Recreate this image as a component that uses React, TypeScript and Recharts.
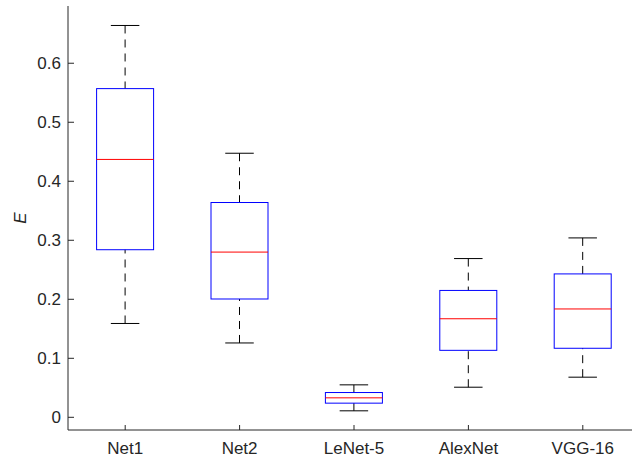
import React from 'react';
import { ComposedChart, Bar, XAxis, YAxis } from 'recharts';

// box statistics
const names = ['Net1', 'Net2', 'LeNet-5', 'AlexNet', 'VGG-16'];
const lowerWhisker = [0.159, 0.126, 0.011, 0.051, 0.068];
const q1 = [0.284, 0.2005, 0.024, 0.1135, 0.117];
const median = [0.437, 0.28, 0.033, 0.167, 0.1836];
const q3 = [0.557, 0.364, 0.042, 0.215, 0.243];
const upperWhisker = [0.664, 0.4475, 0.055, 0.269, 0.304];
const yTicks = [0, 0.1, 0.2, 0.3, 0.4, 0.5, 0.6];

const data = names.map((name, i) => ({
  name,
  min: lowerWhisker[i],
  q1: q1[i],
  median: median[i],
  q3: q3[i],
  max: upperWhisker[i],
}));

const AXIS = '#262626';

const BoxShape = (props: any) => {
  const { x, y, width, height, payload } = props;
  const top = Math.min(y, y + height);
  const bottom = Math.max(y, y + height);
  const k = (bottom - top) / (payload.max - payload.min);
  const py = (v: number) => top + (payload.max - v) * k;
  const cx = x + width / 2;
  const cap = width / 4;
  return (
    <g>
      {/* whiskers, dashed from the cap towards the box */}
      <line x1={cx} x2={cx} y1={py(payload.max)} y2={py(payload.q3)} stroke="#000" strokeDasharray="8 6" />
      <line x1={cx} x2={cx} y1={py(payload.min)} y2={py(payload.q1)} stroke="#000" strokeDasharray="8 6" />
      <line x1={cx - cap} x2={cx + cap} y1={py(payload.max)} y2={py(payload.max)} stroke="#000" />
      <line x1={cx - cap} x2={cx + cap} y1={py(payload.min)} y2={py(payload.min)} stroke="#000" />
      {/* box */}
      <rect x={x} y={py(payload.q3)} width={width} height={py(payload.q1) - py(payload.q3)} fill="none" stroke="#0000ff" />
      <line x1={x} x2={x + width} y1={py(payload.median)} y2={py(payload.median)} stroke="#ff0000" />
    </g>
  );
};

const YLabel = (props: any) => {
  const vb = props.viewBox;
  const lx = vb.x + 12;
  const ly = vb.y + vb.height / 2;
  return (
    <text x={lx} y={ly} transform={`rotate(-90, ${lx}, ${ly})`} textAnchor="middle" dominantBaseline="central"
      fill={AXIS} fontSize={17} fontStyle="italic">E</text>
  );
};

export default function App() {
  return (
    <div style={{ position: 'fixed', left: 0, top: 0, width: 632, height: 463, overflow: 'hidden', background: '#fff' }}>
      <ComposedChart
        width={660}
        height={463}
        data={data}
        margin={{ top: 6, right: 20, bottom: 0, left: 8 }}
        barCategoryGap="25%"
        style={{ fontFamily: '"Liberation Sans", Arial, sans-serif' }}
      >
        <XAxis
          dataKey="name"
          type="category"
          height={33}
          stroke={AXIS}
          tickSize={-5}
          tickMargin={17}
          tick={{ fill: AXIS, fontSize: 17 }}
          interval={0}
        />
        <XAxis
          xAxisId="top"
          orientation="top"
          dataKey="name"
          type="category"
          height={0}
          stroke={AXIS}
          tickSize={-5}
          tickFormatter={() => ''}
          interval={0}
        />
        <YAxis
          type="number"
          width={60}
          domain={[-0.0215, 0.697]}
          ticks={yTicks}
          stroke={AXIS}
          tickSize={-6}
          tickMargin={13}
          tick={{ fill: AXIS, fontSize: 17 }}
          tickFormatter={(v: number) => String(Number(v.toFixed(1)))}
          label={{ content: YLabel }}
        />
        <Bar dataKey={(d: any) => [d.min, d.max]} shape={BoxShape} isAnimationActive={false} />
      </ComposedChart>
    </div>
  );
}
